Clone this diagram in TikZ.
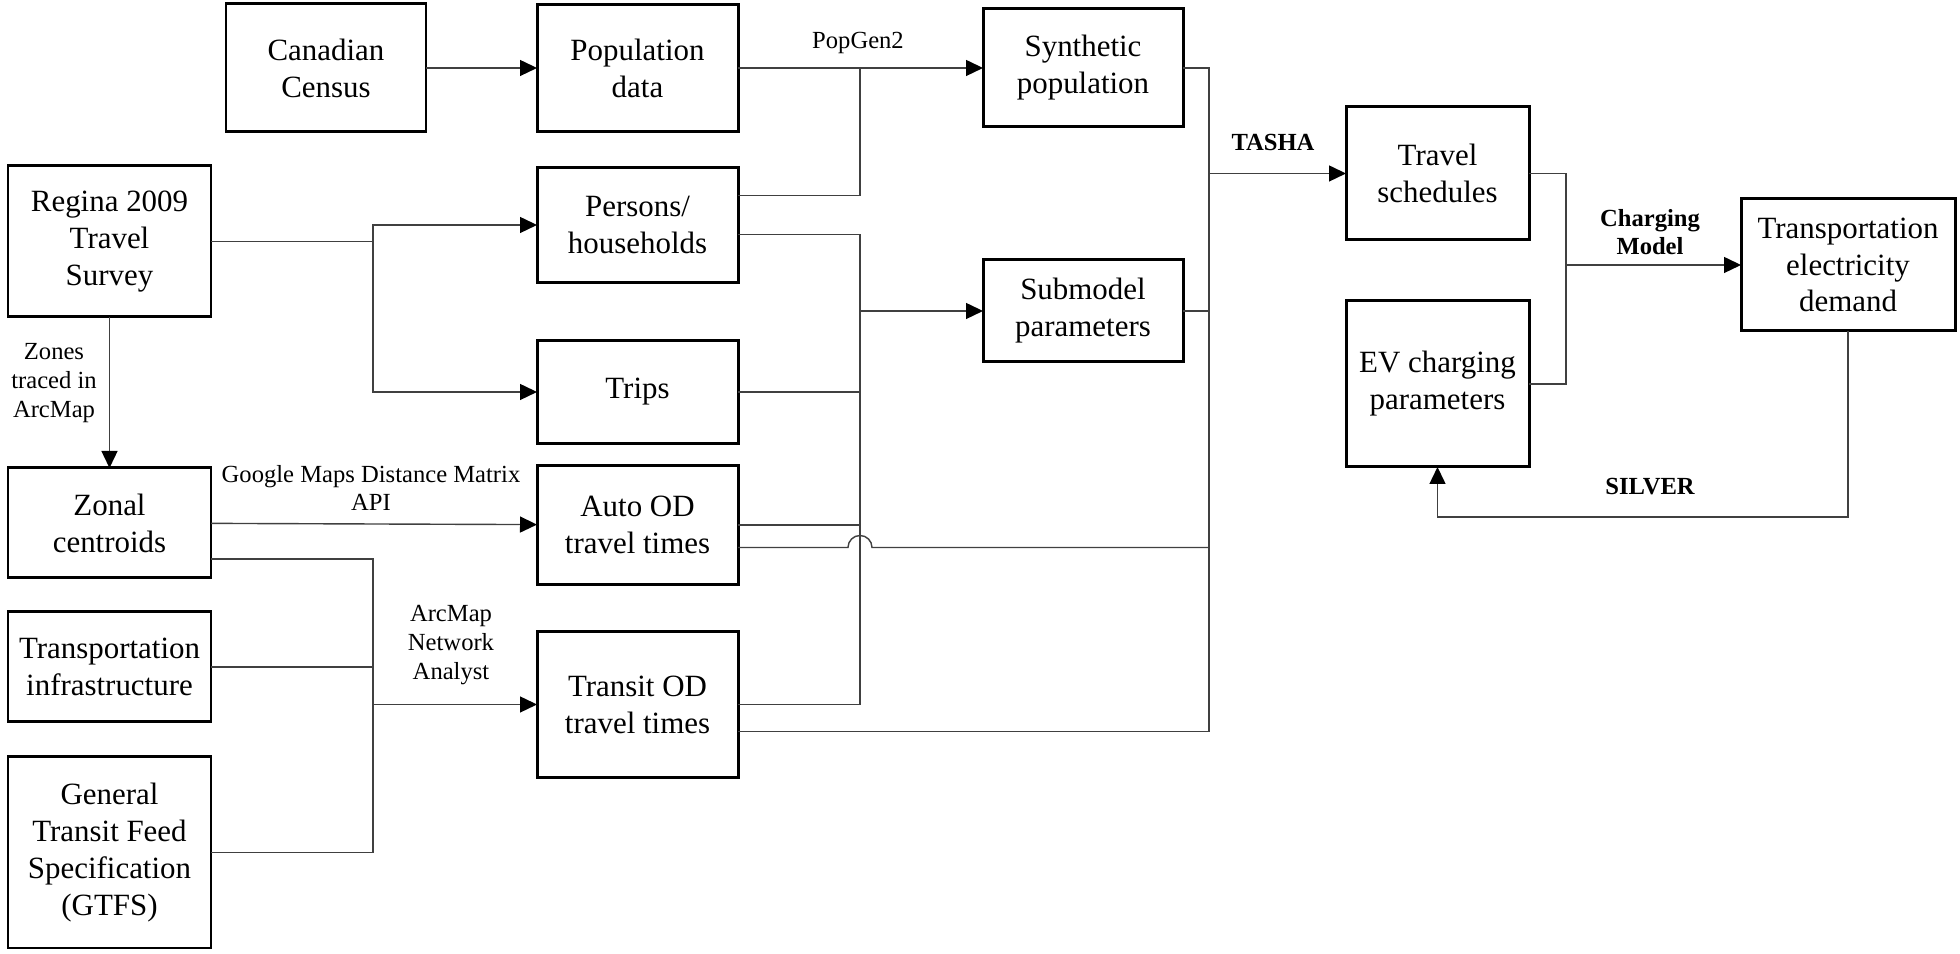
\documentclass[tikz,border=0pt]{standalone}
\usepackage{fontspec}
\setmainfont{Liberation Serif}
\usetikzlibrary{positioning}
\usetikzlibrary{arrows.meta}

\begin{document}
\begin{tikzpicture}[>={Triangle[length=0.17cm,width=0.16cm,color=black]},
		box/.style={draw=black, line width=0.85pt, outer sep=0pt, minimum width=2.01cm, inner sep=2pt, align=center, font=\fontsize{8.8}{10.5}\selectfont},
		wire/.style={draw=black!75, line width=0.4pt},
		lbl/.style={align=center, inner sep=0pt, font=\fontsize{7}{8.2}\selectfont},
		blbl/.style={align=center, inner sep=0pt, font=\fontsize{7}{8}\selectfont\bfseries}]
		\useasboundingbox (0,0) rectangle (19.6,-9.54);
		\node (census) [box, minimum width=2cm, minimum height=1.28cm] at (3.26,-0.68) {Canadian\\Census};
		\node (popdata) [box, minimum height=1.27cm, right=1.11cm of census] {Population\\data};
		\node (synpop) [box, minimum width=2cm, minimum height=1.18cm, right=2.45cm of popdata] {Synthetic\\population};
		\node (survey) [box, minimum width=2.03cm, minimum height=1.51cm] at (1.095,-2.415) {Regina 2009\\Travel\\Survey};
		\node (zonal) [box, minimum width=2.03cm, minimum height=1.1cm, below=1.51cm of survey] {Zonal\\centroids};
		\node (infra) [box, minimum width=2.03cm, minimum height=1.1cm, below=0.34cm of zonal] {Transportation\\infrastructure};
		\node (gtfs) [box, minimum width=2.03cm, minimum height=1.91cm, below=0.35cm of infra] {General\\Transit Feed\\Specification\\(GTFS)};
		\node (persons) [box, minimum height=1.15cm, below=0.36cm of popdata] {Persons/\\households};
		\node (trips) [box, minimum height=1.03cm, below=0.58cm of persons] {Trips};
		\node (auto) [box, minimum height=1.19cm, below=0.22cm of trips] {Auto OD\\travel times};
		\node (transit) [box, minimum height=1.46cm, below=0.47cm of auto] {Transit OD\\travel times};
		\node (submodel) [box, minimum width=2cm, minimum height=1.02cm, below=1.33cm of synpop] {Submodel\\parameters};
		\node (sched) [box, minimum width=1.83cm, minimum height=1.33cm, right=1.63cm of synpop, yshift=-1.055cm] {Travel\\schedules};
		\node (evp) [box, minimum width=1.83cm, minimum height=1.66cm, below=0.61cm of sched] {EV charging\\parameters};
		\node (demand) [box, minimum width=2.14cm, minimum height=1.32cm, right=2.12cm of sched, yshift=-0.915cm] {Transportation\\electricity\\demand};
		\node (lpop) [lbl] at (8.58,-0.43) {PopGen2};
		\node (lzone) [lbl] at (0.54,-3.83) {Zones\\traced in\\ArcMap};
		\node (lgoogle) [lbl] at (3.71,-4.88) {Google Maps Distance Matrix\\API};
		\node (larc) [lbl] at (4.51,-6.45) {ArcMap\\Network\\Analyst};
		\node (ltasha) [blbl] at (12.73,-1.42) {TASHA};
		\node (lcharge) [blbl] at (16.5,-2.32) {Charging\\Model};
		\node (lsilver) [blbl] at (16.5,-4.87) {SILVER};
		\coordinate (b1) at (3.73,0);
		\coordinate (b2) at (8.6,0);
		\coordinate (b2h) at (8.48,0);
		\coordinate (b3) at (12.09,0);
		\coordinate (b4) at (15.66,0);
		\coordinate (fb) at (0,-5.17);
		\coordinate (pup) at ([yshift=0.295cm]persons.east);
		\coordinate (plo) at ([yshift=-0.095cm]persons.east);
		\coordinate (zlo) at ([yshift=-0.36cm]zonal.east);
		\coordinate (alo) at ([yshift=-0.225cm]auto.east);
		\coordinate (tlo) at ([yshift=-0.27cm]transit.east);
		\draw[wire,->] (census) -- (popdata);
		\draw[wire,->] (popdata.east) -- (popdata.east -| synpop.west);
		\draw[wire] (pup) -| (popdata.east -| b2);
		\draw[wire] (survey) -- (survey.east -| b1);
		\draw[wire,->] (survey.east -| b1) |- (persons);
		\draw[wire,->] (survey.east -| b1) |- (trips);
		\draw[wire,->] (survey) -- (zonal);
		\draw[wire,->] (zonal) -- (auto);
		\draw[wire] (zlo) -| (gtfs.east -| b1) -- (gtfs);
		\draw[wire] (infra) -- (infra.east -| b1);
		\draw[wire,->] (transit.west -| b1) -- (transit);
		\draw[wire] (plo) -| (transit.east -| b2) -- (transit);
		\draw[wire] (trips) -- (trips.east -| b2);
		\draw[wire] (auto) -- (auto.east -| b2);
		\draw[wire,->] (submodel.west -| b2) -- (submodel);
		\draw[wire] (synpop) -| (tlo -| b3) -- (tlo);
		\draw[wire] (submodel) -- (submodel.east -| b3);
		\draw[wire] (alo) -- (alo -| b2h) arc[start angle=180, end angle=0, radius=0.12cm] -- (alo -| b3);
		\draw[wire,->] (sched.west -| b3) -- (sched);
		\draw[wire] (sched) -| (evp.east -| b4) -- (evp);
		\draw[wire,->] (demand.west -| b4) -- (demand);
		\draw[wire,->] (demand) -- (demand.south |- fb) -| (evp);
\end{tikzpicture}
\end{document}
